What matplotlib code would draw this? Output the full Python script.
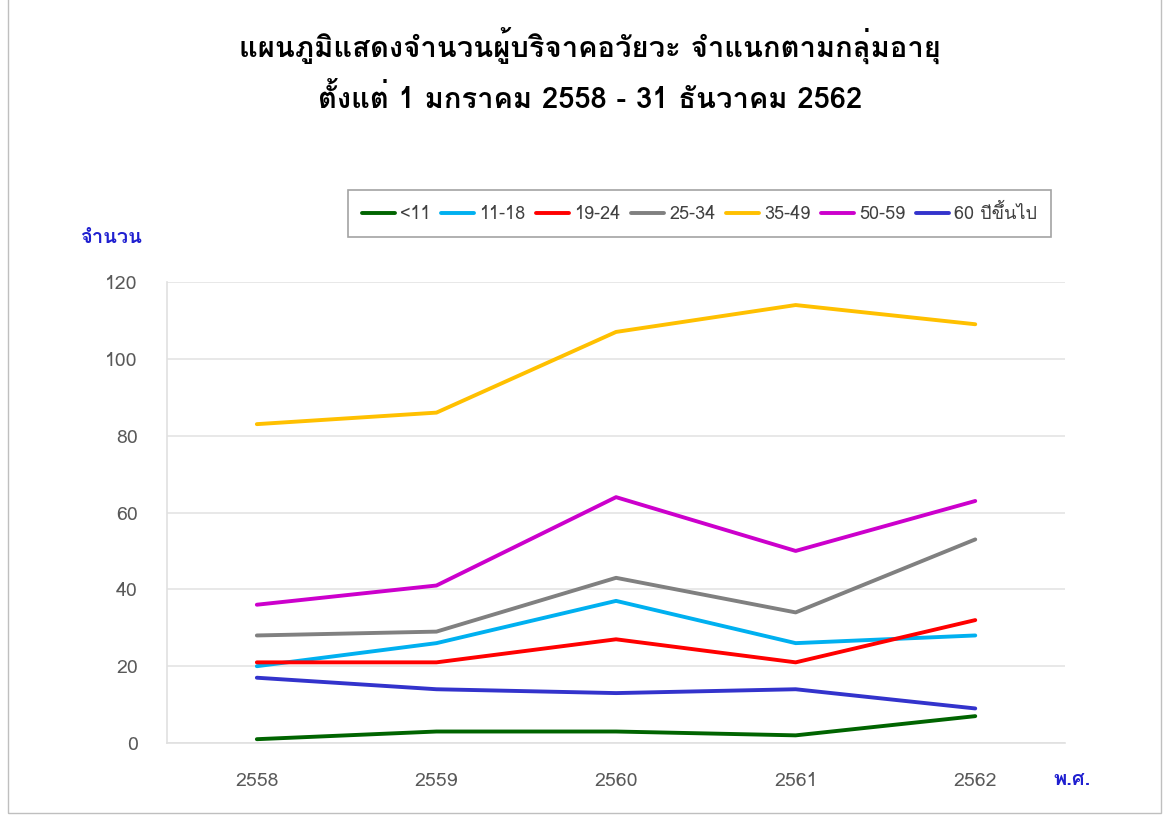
import matplotlib
matplotlib.use('Agg')
import matplotlib.pyplot as plt
from matplotlib import font_manager, ft2font
from matplotlib.patches import Rectangle

# data
years = ['2558', '2559', '2560', '2561', '2562']
age_groups = ['<11', '11-18', '19-24', '25-34', '35-49', '50-59', '60 ปีขึ้นไป']
under_11 = [1, 3, 3, 2, 7]
age_11_18 = [20, 26, 37, 26, 28]
age_19_24 = [21, 21, 27, 21, 32]
age_25_34 = [28, 29, 43, 34, 53]
age_35_49 = [83, 86, 107, 114, 109]
age_50_59 = [36, 41, 64, 50, 63]
age_60_up = [17, 14, 13, 14, 9]
colors = ['#006400', '#00b0f0', '#ff0000', '#808080', '#ffc000', '#cc00cc', '#3333cc']

title = 'แผนภูมิแสดงจำนวนผู้บริจาคอวัยวะ จำแนกตามกลุ่มอายุ\nตั้งแต่ 1 มกราคม 2558 - 31 ธันวาคม 2562'


def find_thai_font():
    # pick any installed font that has Thai glyphs
    for f in font_manager.fontManager.ttflist:
        try:
            cmap = ft2font.FT2Font(f.fname).get_charmap()
        except Exception:
            continue
        if 0x0E08 in cmap and 0x0E33 in cmap:
            return f.name
    return None


thai = find_thai_font()
fams = ([thai] if thai else []) + ['DejaVu Sans']
plt.rcParams['font.family'] = fams

fig = plt.figure(figsize=(11.64, 8.15), dpi=100)
ax = fig.add_axes([0.1435, 0.0883, 0.7715, 0.5657])

series = [under_11, age_11_18, age_19_24, age_25_34, age_35_49, age_50_59, age_60_up]
x = range(len(years))
for name, vals, c in zip(age_groups, series, colors):
    ax.plot(x, vals, color=c, linewidth=2.8, label=name, solid_capstyle='round')

ax.set_xlim(-0.5, len(years) - 0.5)
ax.set_ylim(0, 120)
ax.set_yticks(range(0, 121, 20))
ax.set_xticks(list(x))
ax.set_xticklabels(years)
ax.tick_params(axis='both', length=0, labelsize=14, labelcolor='#595959')
ax.tick_params(axis='y', pad=21)
ax.tick_params(axis='x', pad=21)
ax.grid(axis='y', color='#e4e4e4', linewidth=1.2)
ax.set_axisbelow(True)
for s in ['top', 'right']:
    ax.spines[s].set_visible(False)
for s in ['left', 'bottom']:
    ax.spines[s].set_color('#e0e0e0')
    ax.spines[s].set_linewidth(1.2)

fig.text(0.507, 0.913, title, ha='center', va='center', fontsize=21,
         fontweight='bold', linespacing=1.8)
fig.text(0.095, 0.708, 'จำนวน', color='#1f1fd0', fontsize=14.5, fontweight='bold',
         ha='center', va='center')
fig.text(0.905, 0.043, 'พ.ศ.', color='#1f1fd0', fontsize=14.5, fontweight='bold',
         ha='left', va='center')

leg = fig.legend(loc='center', bbox_to_anchor=(0.601, 0.738), ncol=7, frameon=True,
                 fancybox=False, edgecolor='#8c8c8c', fontsize=13, handlelength=1.8,
                 handletextpad=0.3, columnspacing=0.6, borderpad=0.8)
leg.get_frame().set_linewidth(1.2)
for t in leg.get_texts():
    t.set_color('#404040')

# outer border of the picture
fig.patches.append(Rectangle((0.007, 0.003), 0.99, 1.0, transform=fig.transFigure,
                             fill=False, edgecolor='#bfbfbf', linewidth=1.0))

fig.savefig('out.png', dpi=100)
